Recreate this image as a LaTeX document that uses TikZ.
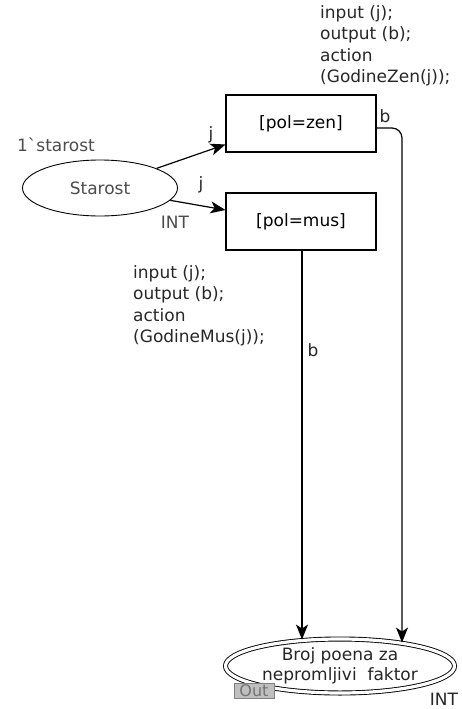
\documentclass[tikz,border=0pt]{standalone}
\usepackage{fontspec}
\setsansfont{DejaVu Sans}
\usetikzlibrary{arrows.meta,shapes.geometric}

\tikzset{
  place/.style={draw, ellipse, line width=0.9pt, text=black!70, inner sep=0pt},
  trans/.style={draw, line width=1.1pt, minimum width=150pt, minimum height=57pt},
  arc/.style={-{Stealth[length=15pt,width=12pt,inset=4pt]}, line width=1.2pt},
  inscr/.style={text=black!85, inner sep=0pt}
}

\begin{document}
\begin{tikzpicture}[x=1pt,y=-1pt,font=\sffamily\fontsize{17}{21.5}\selectfont]
  \useasboundingbox (0,0) rectangle (462,709);

  \node[place, minimum width=155pt, minimum height=56pt] (starost) at (100,188) {Starost};
  \node[inscr, text=black!70] (init) at (56,145) {1\textasciigrave starost};
  \node[inscr, text=black!70] (type1) at (175,222) {INT};

  \node[trans] (zen) at (301,123.5) {[pol=zen]};
  \node[trans] (mus) at (301,221.5) {[pol=mus]};

  \node[place, double, double distance=3.2pt, align=center, text=black!85,
        minimum width=229pt, minimum height=54pt] (broj) at (340,666)
        {Broj poena za\\[-2pt]nepromljivi\ \ faktor};
  \node[draw=black!50, fill=black!25, text=black!55, inner sep=1pt,
        minimum width=40pt, minimum height=15pt,
        font=\sffamily\fontsize{16}{16}\selectfont] (port) at (254,690.5) {Out};
  \node[inscr] (type2) at (444,699) {INT};

  \node[inscr, anchor=north west, align=left] (codezen) at (320,5)
    {input (j);\\output (b);\\action\\(GodineZen(j));};
  \node[inscr, anchor=north west, align=left] (codemus) at (133,265)
    {input (j);\\output (b);\\action\\(GodineMus(j));};

  \draw[arc] (starost) -- ([yshift=-21pt]zen.west);
  \draw[arc] (starost) -- ([yshift=11.5pt]mus.west);
  \node[inscr] (j1) at (211,135) {j};
  \node[inscr] (j2) at (201,185) {j};

  \draw[arc, rounded corners=10pt] ([yshift=-4.5pt]zen.east) -| ([xshift=62pt,yshift=-4pt]broj.north);
  \draw[arc] ([xshift=1pt]mus.south) -- ([xshift=-38pt,yshift=-1pt]broj.north);
  \node[inscr] (b1) at (385,116) {b};
  \node[inscr] (b2) at (313,350) {b};
\end{tikzpicture}
\end{document}
